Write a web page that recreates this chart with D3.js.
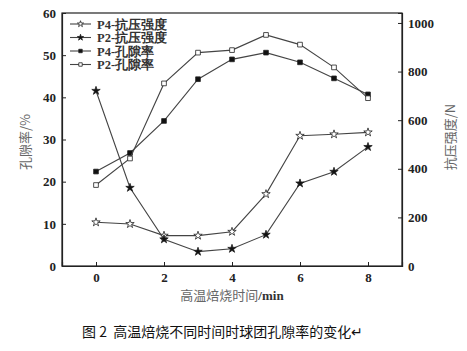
<!DOCTYPE html>
<html>
<head>
<meta charset="utf-8">
<script src="https://cdn.jsdelivr.net/npm/d3@7"></script>
<style>
  body { margin: 0; background: #fff; }
  svg { display: block; }
</style>
</head>
<body>
<svg width="467" height="351"></svg>
<script>
// data
var times = [0, 1, 2, 3, 4, 5, 6, 7, 8];
var p4Strength = [180, 173, 125, 125, 141, 296, 536, 542, 550];
var p2Strength = [721, 322, 110, 59, 71, 129, 340, 388, 490];
var p4Porosity = [22.4, 26.8, 34.4, 44.3, 49.0, 50.6, 48.3, 44.5, 40.7];
var p2Porosity = [19.2, 25.5, 43.3, 50.6, 51.2, 54.8, 52.5, 47.1, 39.8];
var xTicks = [0, 2, 4, 6, 8];
var leftTicks = [0, 10, 20, 30, 40, 50, 60];
var rightTicks = [0, 200, 400, 600, 800, 1000];

var svg = d3.select("svg");
var plotL = 62, plotR = 402, plotT = 13, plotB = 266;

var xScale = d3.scaleLinear().domain([-1, 9]).range([plotL, plotR]);
var yLeft = d3.scaleLinear().domain([0, 60]).range([plotB, plotT]);
var yRight = d3.scaleLinear().domain([0, 1041]).range([plotB, plotT]);

var serif = "'Liberation Serif', 'DejaVu Serif', serif";

// frame
svg.append("rect").attr("x", plotL).attr("y", plotT)
  .attr("width", plotR - plotL).attr("height", plotB - plotT)
  .attr("fill", "none").attr("stroke", "#222").attr("stroke-width", 1.2);

var xAxis = d3.axisBottom(xScale).tickValues(xTicks).tickSize(-4).tickPadding(7);
svg.append("g").attr("transform", "translate(0," + plotB + ")").call(xAxis);

var yAxisL = d3.axisLeft(yLeft).tickValues(leftTicks).tickSize(-4).tickPadding(6);
svg.append("g").attr("transform", "translate(" + plotL + ",0)").call(yAxisL);

var yAxisR = d3.axisRight(yRight).tickValues(rightTicks).tickFormat(d3.format("d"))
  .tickSize(-4).tickPadding(6);
svg.append("g").attr("transform", "translate(" + plotR + ",0)").call(yAxisR);

svg.selectAll(".domain").attr("stroke", "#222").attr("stroke-width", 1.2);
svg.selectAll(".tick line").attr("stroke", "#222");
svg.selectAll(".tick text")
  .attr("font-family", serif).attr("font-weight", "bold")
  .attr("font-size", 13).attr("fill", "#222");

// series
var series = [
  { name: "P4-抗压强度", values: p4Strength, scale: yRight, symbol: d3.symbolStar, filled: false },
  { name: "P2-抗压强度", values: p2Strength, scale: yRight, symbol: d3.symbolStar, filled: true },
  { name: "P4-孔隙率", values: p4Porosity, scale: yLeft, symbol: d3.symbolSquare, filled: true },
  { name: "P2-孔隙率", values: p2Porosity, scale: yLeft, symbol: d3.symbolSquare, filled: false }
];

series.forEach(function (s) {
  var line = d3.line()
    .x(function (d, i) { return xScale(times[i]); })
    .y(function (d) { return s.scale(d); });
  svg.append("path").datum(s.values)
    .attr("d", line).attr("fill", "none")
    .attr("stroke", "#444").attr("stroke-width", 1.1);
  var sym = d3.symbol().type(s.symbol).size(s.symbol === d3.symbolStar ? 22 : 22);
  svg.selectAll(null).data(s.values).enter().append("path")
    .attr("d", sym)
    .attr("transform", function (d, i) {
      return "translate(" + xScale(times[i]) + "," + s.scale(d) + ")";
    })
    .attr("fill", s.filled ? "#111" : "#fff")
    .attr("stroke", "#222").attr("stroke-width", 0.8);
});

// legend
var legend = svg.append("g");
series.forEach(function (s, i) {
  var y = 24 + i * 13.5;
  legend.append("line").attr("x1", 70).attr("x2", 91).attr("y1", y).attr("y2", y)
    .attr("stroke", "#444").attr("stroke-width", 1.1);
  legend.append("path")
    .attr("d", d3.symbol().type(s.symbol).size(s.symbol === d3.symbolStar ? 12 : 12))
    .attr("transform", "translate(80.5," + y + ")")
    .attr("fill", s.filled ? "#111" : "#fff")
    .attr("stroke", "#222").attr("stroke-width", 0.8);
  legend.append("text").attr("x", 97).attr("y", y + 4.5)
    .attr("font-family", serif).attr("font-weight", "bold")
    .attr("font-size", 12.5).attr("fill", "#333")
    .text(s.name);
});

// axis titles
svg.append("text")
  .attr("transform", "translate(30,142) rotate(-90)")
  .attr("text-anchor", "middle")
  .attr("font-family", "'Noto Sans CJK SC', sans-serif")
  .attr("font-size", 13).attr("fill", "#666")
  .text("孔隙率/%");

svg.append("text")
  .attr("transform", "translate(455,137) rotate(-90)")
  .attr("text-anchor", "middle")
  .attr("font-family", "'Noto Sans CJK SC', sans-serif")
  .attr("font-size", 13).attr("fill", "#666")
  .text("抗压强度/N");

var xt = svg.append("text")
  .attr("x", 232).attr("y", 300)
  .attr("text-anchor", "middle")
  .attr("font-size", 13);
xt.append("tspan").attr("font-family", "'Noto Sans CJK SC', sans-serif").attr("fill", "#666").text("高温焙烧时间");
xt.append("tspan").attr("font-family", serif).attr("font-weight", "bold").attr("fill", "#333").text("/min");

// caption
svg.append("text")
  .attr("x", 82).attr("y", 337)
  .attr("font-family", "'Noto Sans CJK SC', sans-serif")
  .attr("font-size", 14).attr("fill", "#111")
  .text("图 2\u00a0 高温焙烧不同时间时球团孔隙率的变化↵");
</script>
</body>
</html>
